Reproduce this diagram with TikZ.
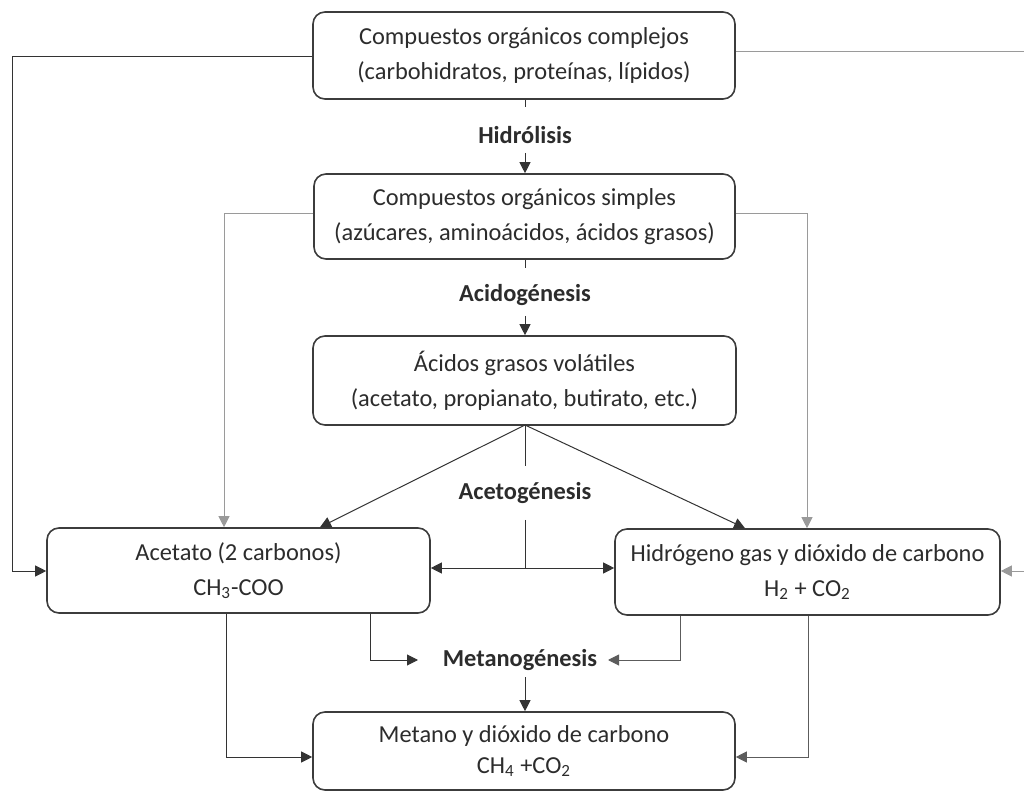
\documentclass[tikz,border=0pt]{standalone}
\usepackage{fontspec}
\setmainfont{Carlito}
\usetikzlibrary{arrows.meta}
\definecolor{txt}{HTML}{2C2C2C}
\definecolor{boxc}{HTML}{3C3C3C}
\definecolor{linec}{HTML}{333333}
\definecolor{glinec}{HTML}{9A9A9A}
\begin{document}
\begin{tikzpicture}[x=0.5pt,y=-0.5pt,
  box/.style={draw=boxc, line width=0.8pt, rounded corners=6pt, align=center,
    inner sep=0pt, text=txt, font=\fontsize{12.2}{17.5}\selectfont},
  lab/.style={font=\fontsize{12.2}{14}\selectfont\bfseries, text=txt, inner sep=0pt},
  conn/.style={draw=linec, line width=0.5pt},
  gconn/.style={draw=glinec, line width=0.5pt},
  arr/.style={-{Triangle[length=5.5pt,width=5.5pt]}},
]
\useasboundingbox (0,0) rectangle (1024,791);

% boxes
\node[box, minimum width=211pt, minimum height=43.5pt] (b1) at (524,55.5)
  {Compuestos orgánicos complejos\\(carbohidratos, proteínas, lípidos)};
\node[box, minimum width=210.5pt, minimum height=42.5pt] (b2) at (524.5,216.5)
  {Compuestos orgánicos simples\\(azúcares, aminoácidos, ácidos grasos)};
\node[box, minimum width=211.5pt, minimum height=44.5pt] (b3) at (524.5,380.5)
  {Ácidos grasos volátiles\\(acetato, propianato, butirato, etc.)};
\node[box, minimum width=191.5pt, minimum height=42.5pt] (ac) at (238.5,570.5)
  {Acetato (2 carbonos)\\CH\textsubscript{3}-COO};
\node[box, minimum width=192.5pt, minimum height=43pt] (hy) at (807.5,572)
  {Hidrógeno gas y dióxido de carbono\\H\textsubscript{2} + CO\textsubscript{2}};
\node[box, minimum width=211pt, minimum height=39pt, font=\fontsize{12.2}{15.5}\selectfont] (me) at (524,751)
  {Metano y dióxido de carbono\\CH\textsubscript{4} +CO\textsubscript{2}};

% stage labels
\node[lab] (hid) at (525,135) {Hidrólisis};
\node[lab] (acid) at (525,295) {Acidogénesis};
\node[lab] (acet) at (525,493) {Acetogénesis};
\node[lab] (met) at (520,660) {Metanogénesis};

% helper coordinates
\coordinate (hidA) at (525,107);
\coordinate (hidB) at (525,153);
\coordinate (acidA) at (525,268);
\coordinate (acidB) at (525,316);
\coordinate (acetA) at (525,466);
\coordinate (acetB) at (525,520);
\coordinate (mid) at (525,568);
\coordinate (metL) at (418,660);
\coordinate (metR) at (608,660);
\coordinate (metB) at (525,677);
\coordinate (b3s) at (525,425);

% Hidrolisis
\draw[conn] (b1.south -| hidA) -- (hidA);
\draw[conn,arr] (hidB) -- (b2.north -| hidB);
% Acidogenesis
\draw[conn] (b2.south -| acidA) -- (acidA);
\draw[conn,arr] (acidB) -- (b3.north -| acidB);

% outer loops from b1
\draw[conn,arr] (b1.west |- 0,57) -- (12,57) -- (12,571) -- (ac.west |- 0,571);
\draw[gconn,arr] (b1.east |- 0,52) -- (1025,52) -- (1025,571) -- (hy.east |- 0,571);

% from b2 sides
\draw[gconn,arr] (b2.west |- 0,214) -- (224,214) -- (ac.north -| 224,0);
\draw[gconn,arr] (b2.east |- 0,214) -- (807,214) -- (hy.north -| 807,0);

% Acetogenesis
\draw[conn,arr] (b3s) -- (ac.north -| 320,0);
\draw[conn,arr] (b3s) -- (hy.north -| 745,0);
\draw[conn] (b3s) -- (acetA);
\draw[conn] (acetB) -- (mid);
\draw[conn,arr] (mid) -- (ac.east |- mid);
\draw[conn,arr] (mid) -- (hy.west |- mid);

% Metanogenesis
\draw[conn,arr] (ac.south -| 370,0) -- (370,660) -- (metL);
\draw[gconn,draw=linec!80,arr] (hy.south -| 680,0) -- (680,660) -- (metR);
\draw[conn,arr] (metB) -- (me.north -| metB);

% direct to methane
\draw[conn,arr] (ac.south -| 226,0) -- (226,757) -- (me.west |- 0,757);
\draw[gconn,draw=linec!80,arr] (hy.south -| 808,0) -- (808,757) -- (me.east |- 0,757);
\end{tikzpicture}
\end{document}
